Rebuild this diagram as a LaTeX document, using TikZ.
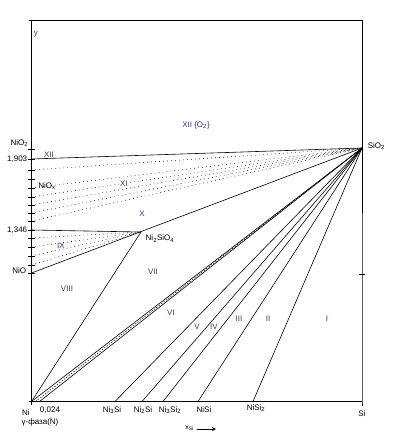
\documentclass[tikz,border=0pt]{standalone}
\usepackage{fontspec}
\setmainfont{Liberation Sans}
\definecolor{regcol}{RGB}{72,52,128}
\begin{document}
\begin{tikzpicture}[x=1pt, y=-1pt, line width=0.6pt,
    font=\fontsize{8}{9}\selectfont,
    lab/.style={inner sep=0.5pt},
    reg/.style={inner sep=0.5pt, text=regcol},
    tie/.style={line width=0.6pt, dash pattern=on 0.7pt off 3.3pt},
    ax/.style={line width=0.9pt}]
  \useasboundingbox (0,0) rectangle (396,443);

  % corners and special points
  \coordinate (Ni) at (31.5,401.5);
  \coordinate (Si) at (362,401.5);
  \coordinate (TL) at (31.5,20);
  \coordinate (TR) at (362,20);
  \coordinate (SiO2) at (362,148);
  \coordinate (NSO) at (141,232);

  % frame
  \draw[ax] (Ni) ++(0,3.5) -- (TL);
  \draw[ax] (TL) ++(-2.5,0) -- (TR) -- (Si) -- ++(0,4);
  \draw[ax] (Ni) ++(-2.5,0) -- (Si);
  \draw[ax] (359,274) -- (365,274);

  % ticks on the y axis
  \foreach \ty [count=\i] in {149,159,170,179,188,197,205,213,221,230,238,247,256,265,273}{
    \coordinate (t\i) at (31.5,\ty);
    \draw (t\i) ++(-3.5,0) -- ++(7,0);
  }

  % points on the x axis
  \coordinate (b0) at (35.5,401.5);
  \coordinate (b024) at (39.5,401.5);
  \coordinate (b3) at (115,401.5);
  \coordinate (b2) at (142,401.5);
  \coordinate (b32) at (163,401.5);
  \coordinate (b1) at (198,401.5);
  \coordinate (b12) at (253,401.5);

  % tie lines
  \draw (t2) -- (SiO2);
  \draw (t10) -- (NSO);
  \draw (t15) -- (SiO2);
  \draw (Ni) -- (NSO);
  \foreach \i in {3,5,6,7,8,9}
    \draw[tie] (t\i) -- (SiO2);
  \foreach \i in {11,12,13,14}
    \draw[tie] (t\i) -- (NSO);
  \draw (Ni) -- (SiO2);
  \draw (b024) -- (SiO2);
  \draw[dash pattern=on 1.5pt off 1.5pt, line width=0.5pt] (b0) -- (SiO2);
  \foreach \c in {b3,b2,b32,b1,b12}
    \draw (\c) -- (SiO2);

  % axis labels
  \node[reg, anchor=west] (ly) at (33,34) {y};
  \node[lab, anchor=east] (lNiO2) at (29,143) {NiO\textsubscript{2}};
  \node[lab, anchor=east] (l1903) at (28,159) {1,903};
  \node[lab, anchor=east] (l1346) at (28,230) {1,346};
  \node[lab, anchor=east] (lNiO) at (27,271) {NiO};
  \node[lab, anchor=west] (lSiO2) at (367,146) {SiO\textsubscript{2}};
  \node[lab] (lNi) at (26,413) {Ni};
  \node[lab] (lgam) at (40,422) {γ-фаза(N)};
  \node[lab] (l024) at (50,410) {0,024};
  \node[lab] (lNi3Si) at (112,410) {Ni\textsubscript{3}Si};
  \node[lab] (lNi2Si) at (143,410) {Ni\textsubscript{2}Si};
  \node[lab] (lNi3Si2) at (170,410) {Ni\textsubscript{3}Si\textsubscript{2}};
  \node[lab] (lNiSi) at (204,410) {NiSi};
  \node[lab] (lNiSi2) at (256,408) {NiSi\textsubscript{2}};
  \node[lab] (lSi) at (362,414) {Si};
  \node[lab, font=\fontsize{7}{8}\selectfont] (lxSi) at (189.5,428) {x\textsubscript{Si}};
  \coordinate (arrA) at (197,429);
  \coordinate (arrB) at (216,429);
  \draw[-stealth, line width=0.9pt] (arrA) -- (arrB);
  \node[lab] (lNSO) at (160,238.5) {Ni\textsubscript{2}SiO\textsubscript{4}};
  \node[lab] (lNiOx) at (47,186) {NiO\textsubscript{x}};

  % phase fields
  \node[reg] (rXIIO) at (196,125) {XII \{O\textsubscript{2}\}};
  \node[reg] (rXII) at (49,155) {XII};
  \node[reg] (rXI) at (124,184) {XI};
  \node[reg] (rX) at (142,214) {X};
  \node[reg] (rIX) at (61,246) {IX};
  \node[reg] (rVIII) at (67,289) {VIII};
  \node[reg] (rVII) at (153,272) {VII};
  \node[reg] (rVI) at (171,313) {VI};
  \node[reg] (rV) at (197,327) {V};
  \node[reg] (rIV) at (214,327) {IV};
  \node[reg] (rIII) at (239,319) {III};
  \node[reg] (rII) at (268,319) {II};
  \node[reg] (rI) at (327,319) {I};
\end{tikzpicture}
\end{document}
